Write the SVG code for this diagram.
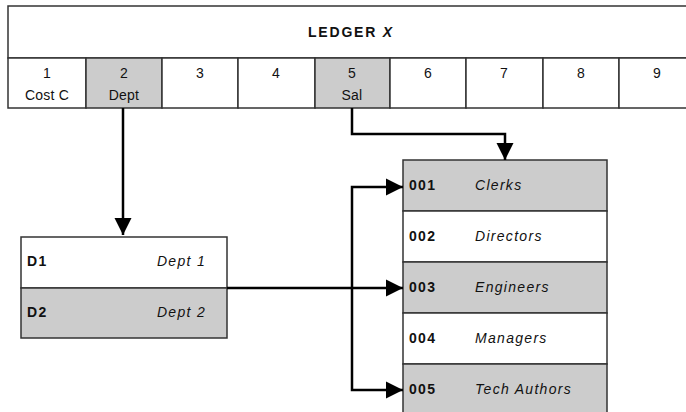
<svg xmlns="http://www.w3.org/2000/svg" width="686" height="412" viewBox="0 0 686 412">
  <style>
    .cell { stroke: #333; stroke-width: 1.5; }
    .white { fill: #ffffff; }
    .grey { fill: #cccccc; }
    .t { font-family: "Liberation Sans", Arial, sans-serif; font-size: 14px; fill: #111; }
    .num { text-anchor: middle; letter-spacing: 0.2px; }
    .row { letter-spacing: 1.3px; }
    .b { font-weight: bold; }
    .i { font-style: italic; }
    .title { font-size: 14px; font-weight: bold; letter-spacing: 1.8px; text-anchor: middle; }
    .link { fill: none; stroke: #000; stroke-width: 2.5; }
  </style>
  <defs>
    <marker id="arrow" viewBox="0 0 10 10" refX="10" refY="5" markerWidth="7" markerHeight="7" markerUnits="strokeWidth" orient="auto">
      <path d="M0,0 L10,5 L0,10 Z" fill="#000"/>
    </marker>
  </defs>
  <rect width="686" height="412" fill="#ffffff"/>

  <!-- Ledger header and field cells -->
  <g id="ledger">
    <rect class="cell white" x="8" y="6" width="688" height="52"/>
    <text class="t title" x="351" y="37">LEDGER <tspan font-style="italic">X</tspan></text>
    <rect class="cell white" x="8" y="58" width="78" height="50"/>
    <rect class="cell grey" x="86" y="58" width="76" height="50"/>
    <rect class="cell white" x="162" y="58" width="76" height="50"/>
    <rect class="cell white" x="238" y="58" width="77" height="50"/>
    <rect class="cell grey" x="315" y="58" width="75" height="50"/>
    <rect class="cell white" x="390" y="58" width="76" height="50"/>
    <rect class="cell white" x="466" y="58" width="77" height="50"/>
    <rect class="cell white" x="543" y="58" width="76" height="50"/>
    <rect class="cell white" x="619" y="58" width="77" height="50"/>
    <text class="t num" x="47" y="78">1</text>
    <text class="t num" x="47" y="100">Cost C</text>
    <text class="t num" x="124" y="78">2</text>
    <text class="t num" x="124" y="100">Dept</text>
    <text class="t num" x="200" y="78">3</text>
    <text class="t num" x="276" y="78">4</text>
    <text class="t num" x="352" y="78">5</text>
    <text class="t num" x="352" y="100">Sal</text>
    <text class="t num" x="428" y="78">6</text>
    <text class="t num" x="504" y="78">7</text>
    <text class="t num" x="581" y="78">8</text>
    <text class="t num" x="657" y="78">9</text>
  </g>

  <!-- Department table -->
  <g id="dept">
    <rect class="cell white" x="21" y="237" width="206" height="51"/>
    <rect class="cell grey" x="21" y="288" width="206" height="50"/>
    <text class="t b row" x="27" y="266">D1</text>
    <text class="t i row" x="206" y="266" text-anchor="end">Dept 1</text>
    <text class="t b row" x="27" y="317">D2</text>
    <text class="t i row" x="206" y="317" text-anchor="end">Dept 2</text>
  </g>

  <!-- Salary grade table -->
  <g id="sal">
    <rect class="cell grey" x="403" y="160" width="204" height="51"/>
    <rect class="cell white" x="403" y="211" width="204" height="51"/>
    <rect class="cell grey" x="403" y="262" width="204" height="51"/>
    <rect class="cell white" x="403" y="313" width="204" height="51"/>
    <rect class="cell grey" x="403" y="364" width="204" height="51"/>
    <text class="t b row" x="409" y="190">001</text>
    <text class="t i row" x="475" y="190">Clerks</text>
    <text class="t b row" x="409" y="241">002</text>
    <text class="t i row" x="475" y="241">Directors</text>
    <text class="t b row" x="409" y="292">003</text>
    <text class="t i row" x="475" y="292">Engineers</text>
    <text class="t b row" x="409" y="343">004</text>
    <text class="t i row" x="475" y="343">Managers</text>
    <text class="t b row" x="409" y="394">005</text>
    <text class="t i row" x="475" y="394">Tech Authors</text>
  </g>

  <!-- Connectors -->
  <g id="connectors">
    <path class="link" d="M123,108 V235" marker-end="url(#arrow)"/>
    <path class="link" d="M352,108 V134 H505 V160" marker-end="url(#arrow)"/>
    <path class="link" d="M227,288 H403" marker-end="url(#arrow)"/>
    <path class="link" d="M352,288 V187 H403" marker-end="url(#arrow)"/>
    <path class="link" d="M352,288 V390 H403" marker-end="url(#arrow)"/>
  </g>
</svg>
